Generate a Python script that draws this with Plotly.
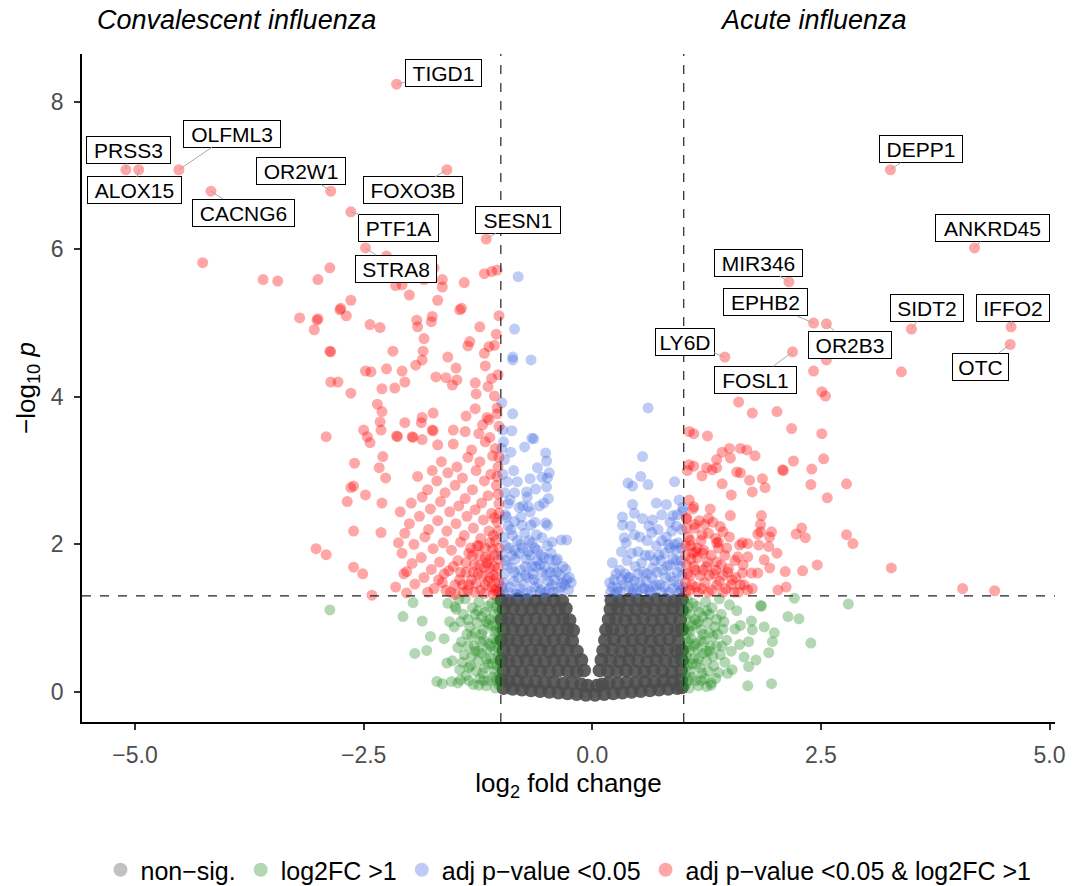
import plotly.graph_objects as go

FONT = "Liberation Sans, Arial, sans-serif"

# ---------------- data (log2FC, -log10 p) ----------------
grey_pts = [
    (-0.97,0.05),(-0.87,0.04),(-0.77,0.03),(-0.67,0.02),(-0.57,0.01),(-0.47,0.00),(-0.37,-0.01),(-0.27,-0.02),(-0.17,-0.03),(-0.07,-0.04),
    (0.03,-0.04),(0.13,-0.03),(0.23,-0.02),(0.33,-0.01),(0.43,0.00),(0.53,0.01),(0.63,0.02),(0.73,0.03),(0.83,0.04),(0.93,0.05),(0.98,0.06),
    (-0.99,0.16),(-0.92,0.14),(-0.82,0.15),(-0.72,0.13),(-0.62,0.14),(-0.52,0.12),(-0.42,0.13),(-0.32,0.11),(-0.22,0.12),(-0.12,0.10),(-0.05,0.08),
    (0.05,0.08),(0.11,0.10),(0.18,0.12),(0.28,0.11),(0.38,0.13),(0.48,0.12),(0.58,0.14),(0.68,0.13),(0.78,0.15),(0.88,0.14),(0.97,0.16),
    (-0.97,0.29),(-0.87,0.28),(-0.77,0.27),(-0.67,0.29),(-0.57,0.28),(-0.47,0.27),(-0.37,0.29),(-0.27,0.28),(-0.17,0.27),(-0.09,0.29),
    (0.08,0.29),(0.17,0.28),(0.27,0.27),(0.37,0.29),(0.47,0.28),(0.57,0.27),(0.67,0.29),(0.77,0.28),(0.87,0.27),(0.97,0.29),
    (-0.99,0.43),(-0.92,0.42),(-0.82,0.41),(-0.72,0.43),(-0.62,0.42),(-0.52,0.41),(-0.42,0.43),(-0.32,0.42),(-0.22,0.41),(-0.12,0.43),
    (0.10,0.43),(0.20,0.42),(0.30,0.41),(0.40,0.43),(0.50,0.42),(0.60,0.41),(0.70,0.43),(0.80,0.42),(0.90,0.41),(0.98,0.43),
    (-0.97,0.56),(-0.87,0.57),(-0.77,0.55),(-0.67,0.56),(-0.57,0.57),(-0.47,0.55),(-0.37,0.56),(-0.27,0.57),(-0.17,0.55),
    (0.12,0.56),(0.22,0.57),(0.32,0.55),(0.42,0.56),(0.52,0.57),(0.62,0.55),(0.72,0.56),(0.82,0.57),(0.92,0.55),(0.98,0.56),
    (-0.99,0.70),(-0.92,0.71),(-0.82,0.69),(-0.72,0.70),(-0.62,0.71),(-0.52,0.69),(-0.42,0.70),(-0.32,0.71),(-0.22,0.69),
    (0.14,0.70),(0.24,0.71),(0.34,0.69),(0.44,0.70),(0.54,0.71),(0.64,0.69),(0.74,0.70),(0.84,0.71),(0.94,0.69),
    (-0.97,0.84),(-0.87,0.85),(-0.77,0.83),(-0.67,0.84),(-0.57,0.85),(-0.47,0.83),(-0.37,0.84),(-0.27,0.85),(-0.21,0.83),
    (0.15,0.84),(0.22,0.85),(0.32,0.83),(0.42,0.84),(0.52,0.85),(0.62,0.83),(0.72,0.84),(0.82,0.85),(0.92,0.83),(0.98,0.84),
    (-0.99,0.98),(-0.92,0.99),(-0.82,0.97),(-0.72,0.98),(-0.62,0.99),(-0.52,0.97),(-0.42,0.98),(-0.32,0.99),(-0.25,0.97),
    (0.18,0.98),(0.26,0.99),(0.36,0.97),(0.46,0.98),(0.56,0.99),(0.66,0.97),(0.76,0.98),(0.86,0.99),(0.96,0.97),
    (-0.97,1.12),(-0.87,1.13),(-0.77,1.11),(-0.67,1.12),(-0.57,1.13),(-0.47,1.11),(-0.37,1.12),(-0.29,1.13),
    (0.20,1.12),(0.28,1.13),(0.38,1.11),(0.48,1.12),(0.58,1.13),(0.68,1.11),(0.78,1.12),(0.88,1.13),(0.98,1.11),
    (-0.99,1.24),(-0.92,1.23),(-0.82,1.25),(-0.72,1.24),(-0.62,1.23),(-0.52,1.25),(-0.42,1.24),(-0.33,1.23),
    (0.21,1.24),(0.30,1.23),(0.40,1.25),(0.50,1.24),(0.60,1.23),(0.70,1.25),(0.80,1.24),(0.90,1.23),(0.98,1.25),
]

green_pts = [
    (-1.02,0.10),(-1.04,0.35),(-1.03,0.60),(-1.05,0.85),(-1.02,1.10),(-1.04,1.25),
    (-1.09,0.20),(-1.11,0.45),(-1.08,0.72),(-1.12,0.98),(-1.10,1.20),
    (-1.16,0.08),(-1.18,0.32),(-1.15,0.58),(-1.19,0.84),(-1.17,1.08),
    (-1.23,0.18),(-1.25,0.42),(-1.22,0.68),(-1.26,0.94),(-1.24,1.22),
    (-1.30,0.10),(-1.33,0.35),(-1.29,0.62),(-1.34,0.88),(-1.31,1.14),
    (-1.38,0.22),(-1.40,0.50),(-1.37,0.78),(-1.41,1.05),(-1.39,1.26),
    (-1.45,0.30),(-1.47,0.60),(-1.44,0.95),(-1.50,1.15),
    (-1.02,0.22),(-1.03,0.48),(-1.02,0.72),(-1.03,0.98),(-1.06,0.05),(-1.07,0.28),(-1.06,0.55),(-1.07,0.82),
    (-1.07,1.05),(-1.13,0.15),(-1.14,0.38),(-1.13,0.65),(-1.14,0.92),(-1.14,1.16),(-1.20,0.25),(-1.21,0.52),
    (-1.21,0.78),(-1.21,1.02),(-1.27,0.28),(-1.28,0.55),(-1.28,0.80),(-1.28,1.05),(-1.35,0.15),(-1.36,0.62),
    (-1.36,0.98),(-1.42,0.40),(-1.43,0.68),(-1.46,1.25),(-1.56,0.95),(-1.58,1.20),
    (-1.01,0.40),(-1.01,0.85),(-1.05,0.15),(-1.05,0.68),(-1.05,1.15),(-1.09,0.38),(-1.09,0.90),(-1.11,0.62),
    (-1.16,0.45),(-1.16,0.95),(-1.19,0.15),(-1.19,0.70),(-1.25,0.55),(-1.25,1.10),(-1.32,0.48),(-1.32,0.75),
    (-1.96,1.21),(-2.87,1.11),(-2.07,1.02),(-1.86,0.96),(-1.77,0.75),(-1.62,0.72),(-1.94,0.52),(-1.81,0.56),
    (-1.59,0.39),(-1.53,0.42),(-1.70,0.14),(-1.64,0.11),(-1.54,0.14),(-1.47,0.12),(-1.44,0.16),(-1.51,0.88),
    (-1.49,1.12),(-1.35,0.33),(-1.24,0.09),
    (1.02,0.10),(1.04,0.35),(1.03,0.60),(1.05,0.85),(1.02,1.10),(1.04,1.25),
    (1.09,0.20),(1.11,0.45),(1.08,0.72),(1.12,0.98),(1.10,1.20),
    (1.16,0.08),(1.18,0.32),(1.15,0.58),(1.19,0.84),(1.17,1.08),
    (1.23,0.18),(1.25,0.42),(1.22,0.68),(1.26,0.94),(1.24,1.22),
    (1.30,0.12),(1.33,0.35),(1.29,0.62),(1.34,0.88),(1.31,1.14),
    (1.38,0.26),(1.40,0.50),(1.37,0.78),(1.41,1.05),(1.39,1.26),
    (1.45,0.40),(1.47,0.70),(1.44,0.95),(1.50,1.18),(1.52,0.55),(1.56,0.85),(1.58,1.10),
    (1.02,0.22),(1.03,0.48),(1.02,0.72),(1.03,0.98),(1.06,0.05),(1.07,0.28),(1.06,0.55),(1.07,0.82),
    (1.07,1.05),(1.13,0.15),(1.14,0.38),(1.13,0.65),(1.14,0.92),(1.14,1.16),(1.20,0.25),(1.21,0.52),
    (1.21,0.78),(1.21,1.02),(1.27,0.28),(1.28,0.55),(1.28,0.80),(1.28,1.05),(1.35,0.18),(1.36,0.62),
    (1.36,0.98),(1.42,0.62),(1.43,0.85),(1.48,0.25),(1.53,0.30),(1.62,0.90),
    (1.01,0.40),(1.01,0.85),(1.05,0.15),(1.05,0.68),(1.05,1.15),(1.09,0.38),(1.09,0.90),(1.11,0.62),
    (1.16,0.45),(1.16,0.95),(1.19,0.15),(1.19,0.70),(1.25,0.55),(1.25,1.10),(1.32,0.48),(1.32,0.75),
    (2.21,1.27),(2.80,1.19),(1.84,1.17),(2.14,1.02),(2.26,0.99),(1.88,0.88),(1.99,0.80),(1.97,0.68),
    (2.39,0.66),(1.93,0.53),(1.79,0.43),(1.71,0.34),(1.70,0.08),(1.96,0.11),(1.74,0.96),(1.75,0.84),
    (1.71,0.68),(1.61,0.64),(1.66,0.47),(1.30,0.09),(1.25,0.07),(1.85,1.16),
]

blue_pts = [
    (-0.81,5.63),(-0.85,4.92),(-0.87,4.54),(-0.87,4.50),(-0.67,4.50),(-0.99,3.92),(-0.87,3.77),(-0.88,3.54),
    (-0.97,3.39),(-0.89,3.25),(-0.74,3.32),(-0.66,3.44),(-0.64,3.43),(-0.51,3.24),(-0.50,3.13),(-0.60,3.04),
    (-0.68,2.89),(-0.55,2.91),(-0.49,2.90),(-0.47,2.97),(-0.50,2.78),(-0.48,2.62),(-0.53,2.56),(-0.96,2.70),
    (-0.85,2.70),(-0.72,2.71),(-0.71,2.64),(-0.70,2.51),(-0.68,2.44),(-0.51,2.29),(-0.49,2.26),(-0.94,2.37),
    (-0.85,2.31),(-0.78,2.37),(-0.77,2.26),(-0.67,2.26),(-0.61,2.13),(-0.55,2.09),(-0.44,2.03),(-0.34,2.06),
    (-0.28,2.06),(-0.23,1.48),(-0.98,3.55),(-0.99,3.30),
    (-0.98,1.35),(-0.96,1.60),(-0.99,1.85),(-0.97,2.10),(-0.95,2.40),(-0.98,2.95),(-0.96,3.15),
    (-0.90,1.42),(-0.88,1.68),(-0.91,1.95),(-0.89,2.20),(-0.92,2.55),
    (-0.83,1.33),(-0.81,1.55),(-0.84,1.80),(-0.82,2.05),(-0.80,2.50),(-0.86,3.00),
    (-0.75,1.45),(-0.73,1.70),(-0.76,1.95),(-0.74,2.15),
    (-0.67,1.36),(-0.65,1.60),(-0.68,1.85),(-0.66,2.02),
    (-0.59,1.48),(-0.57,1.72),(-0.60,1.92),
    (-0.52,1.35),(-0.50,1.58),(-0.53,1.82),(-0.49,1.98),
    (-0.44,1.45),(-0.42,1.68),(-0.45,1.88),
    (-0.37,1.36),(-0.35,1.58),(-0.38,1.80),
    (-0.30,1.45),(-0.29,1.66),(-0.26,1.38),
    (-0.97,1.48),(-0.93,1.72),(-0.95,1.98),(-0.92,2.25),(-0.86,1.50),(-0.85,1.92),(-0.87,2.12),(-0.79,1.40),
    (-0.78,1.65),(-0.80,1.88),(-0.71,1.33),(-0.70,1.55),(-0.72,1.80),(-0.69,2.05),(-0.63,1.42),(-0.62,1.70),
    (-0.63,1.95),(-0.56,1.38),(-0.55,1.62),(-0.56,1.85),(-0.47,1.40),(-0.46,1.62),(-0.41,1.52),(-0.40,1.78),
    (-0.33,1.48),(-0.32,1.70),(-0.25,1.55),(-0.93,2.85),(-0.90,2.60),(-0.82,2.85),(-0.76,2.52),(-0.63,2.30),
    (-0.58,2.52),(-0.62,2.75),
    (-0.99,1.42),(-0.95,1.78),(-0.91,1.35),(-0.88,1.85),(-0.85,1.62),(-0.80,1.32),(-0.78,2.00),(-0.73,1.58),
    (-0.70,1.90),(-0.64,1.52),(-0.60,1.78),(-0.57,1.35),(-0.52,1.70),(-0.48,1.50),(-0.43,1.35),(-0.39,1.62),
    (-0.34,1.42),(-0.28,1.52),(-0.47,1.80),(-0.66,1.70),
    (0.61,3.85),(0.55,3.19),(0.53,2.92),(0.61,2.81),(0.39,2.83),(0.44,2.79),(0.90,2.85),(0.70,2.56),
    (0.81,2.54),(0.88,2.39),(0.99,2.50),(0.44,2.54),(0.46,2.42),(0.33,2.37),(0.33,2.26),(0.55,2.35),
    (0.66,2.33),(0.65,2.16),(0.76,2.40),(0.35,2.09),(0.46,2.13),(0.32,1.90),(0.37,2.02),(0.22,1.75),(0.19,1.48),
    (0.20,1.35),(0.24,1.52),(0.28,1.40),(0.30,1.65),(0.34,1.45),(0.38,1.78),(0.41,1.55),(0.44,1.36),
    (0.47,1.70),(0.50,1.90),(0.52,1.48),(0.56,1.62),(0.58,1.85),(0.60,2.05),(0.62,1.38),(0.65,1.55),
    (0.68,1.78),(0.70,1.98),(0.72,2.20),(0.74,1.45),(0.77,1.65),(0.79,1.88),(0.81,2.10),(0.84,1.35),
    (0.86,1.56),(0.88,1.80),(0.90,2.00),(0.92,2.25),(0.94,1.45),(0.96,1.70),(0.97,1.95),(0.98,2.20),
    (0.99,2.45),(0.95,2.60),
    (0.22,1.42),(0.26,1.60),(0.31,1.36),(0.36,1.60),(0.40,1.42),(0.43,1.88),(0.46,1.50),(0.49,1.35),
    (0.54,1.75),(0.57,1.40),(0.60,1.60),(0.63,1.85),(0.67,1.42),(0.71,1.62),(0.73,1.85),(0.76,2.05),
    (0.79,1.42),(0.82,1.70),(0.85,1.95),(0.87,2.18),(0.89,1.50),(0.92,1.78),(0.94,2.02),(0.97,1.38),
    (0.98,1.58),(0.93,2.40),(0.85,2.30),(0.62,2.25),(0.52,2.10),(0.42,2.25),
    (0.99,1.42),(0.97,1.78),(0.95,1.35),(0.93,1.62),(0.91,1.92),(0.88,1.40),(0.85,1.72),(0.83,2.00),
    (0.80,1.55),(0.76,1.35),(0.75,1.78),(0.70,1.45),(0.66,1.68),(0.64,1.35),(0.59,1.50),(0.55,1.40),
    (0.50,1.60),(0.45,1.40),(0.39,1.55),(0.32,1.52),(0.26,1.35),
]

red_pts = [
    (-2.14,8.24),(-5.10,7.08),(-4.96,7.08),(-4.52,7.08),(-4.17,6.79),(-2.86,6.79),(-1.59,7.08),(-2.64,6.51),
    (-2.48,6.02),(-1.16,6.14),(3.26,7.08),(4.18,6.02),(2.15,5.56),(2.42,5.00),(2.56,4.99),(3.49,4.92),
    (4.58,4.95),(4.57,4.71),(1.45,4.54),(2.19,4.61),
    (-4.26,5.82),(-3.60,5.59),(-3.44,5.57),(-3.00,5.59),(-2.87,5.75),(-2.25,5.91),(-2.15,5.51),(-2.08,5.52),
    (-2.00,5.38),(-1.84,5.59),(-1.73,5.75),(-1.64,5.59),(-1.64,5.49),(-1.40,5.55),(-1.18,5.67),(-1.10,5.70),
    (-1.04,5.72),(-2.64,5.31),(-1.69,5.31),(-2.75,5.20),(-1.43,5.20),
    (-2.76,5.18),(-2.69,5.10),(-3.20,5.07),(-3.01,5.04),(-3.00,5.06),(-3.04,4.91),(-2.43,4.98),(-2.32,4.94),
    (-1.92,5.04),(-1.91,4.95),(-1.75,5.09),(-1.76,5.02),(-1.45,5.18),(-1.23,4.95),(-1.84,4.79),(-2.18,4.62),
    (-1.85,4.62),(-1.34,4.75),(-1.36,4.69),(-1.13,4.68),(-1.07,4.70),(-1.18,4.59),(-1.17,4.42),(-2.87,4.62),
    (-2.86,4.61),(-1.86,4.50),(-1.93,4.43),(-1.58,4.54),(-1.49,4.39),(-2.48,4.35),(-2.42,4.34),(-2.25,4.38),
    (-2.08,4.35),(-2.86,4.20),(-2.78,4.20),(-2.64,4.05),(-2.30,4.11),(-2.16,4.12),(-2.05,4.20),(-1.71,4.27),
    (-1.60,4.26),(-1.48,4.23),(-1.53,4.16),(-1.28,4.19),(-1.27,4.04),(-1.14,4.14),(-1.07,4.01),(-2.35,3.90),
    (-2.30,3.80),(-2.32,3.66),(-2.05,3.65),(-1.86,3.72),(-1.74,3.78),(-1.87,3.65),(-2.91,3.46),(-2.50,3.55),
    (-2.46,3.46),(-2.31,3.55),(-2.14,3.47),(-2.13,3.46),(-1.97,3.46),(-1.96,3.45),(-1.75,3.55),(-1.74,3.54),
    (-1.52,3.55),(-1.39,3.53),(-1.38,3.74),(-1.28,3.84),(-1.13,3.69),(-1.04,3.77),(-1.24,3.50),(-1.17,3.39),
    (-1.86,3.42),(-2.43,3.38),(-1.69,3.35),
    (-2.60,3.10),(-2.33,3.04),(-2.29,3.19),(-2.26,2.90),(-2.64,2.77),(-2.61,2.79),(-2.48,2.67),(-2.68,2.58),
    (-2.30,2.56),(-2.61,2.18),(-2.31,2.16),(-2.12,2.02),(-3.02,1.94),(-2.91,1.86),(-2.61,1.69),(-2.51,1.60),
    (-2.03,1.63),(-2.15,1.42),(-2.03,1.34),(-2.41,1.31),
    (-1.02,1.35),(-1.05,1.55),(-1.03,1.80),(-1.06,2.05),(-1.04,2.30),(-1.02,2.55),(-1.05,2.80),(-1.03,3.05),
    (-1.06,3.30),(-1.02,3.60),(-1.04,3.85),(-1.03,4.30),(-1.05,4.85),(-1.02,5.10),
    (-1.10,1.42),(-1.12,1.68),(-1.09,1.93),(-1.13,2.18),(-1.10,2.42),(-1.14,2.66),(-1.11,2.95),(-1.09,3.20),
    (-1.12,3.45),(-1.15,3.72),(-1.10,4.25),
    (-1.18,1.33),(-1.20,1.58),(-1.17,1.82),(-1.22,2.08),(-1.19,2.33),(-1.21,2.56),(-1.18,2.86),(-1.23,3.12),(-1.20,3.62),
    (-1.27,1.47),(-1.29,1.72),(-1.26,1.98),(-1.30,2.22),(-1.28,2.47),(-1.31,2.74),(-1.27,3.00),(-1.32,3.28),
    (-1.36,1.38),(-1.38,1.62),(-1.35,1.88),(-1.40,2.12),(-1.37,2.38),(-1.39,2.62),(-1.42,2.90),(-1.36,3.18),
    (-1.45,1.52),(-1.47,1.78),(-1.44,2.03),(-1.49,2.28),(-1.46,2.52),(-1.50,2.80),(-1.48,3.05),(-1.52,3.36),
    (-1.55,1.35),(-1.57,1.64),(-1.54,1.92),(-1.59,2.18),(-1.56,2.44),(-1.61,2.70),(-1.58,2.97),
    (-1.64,1.48),(-1.67,1.76),(-1.63,2.02),(-1.69,2.32),(-1.66,2.58),(-1.70,2.86),(-1.65,3.12),
    (-1.73,1.40),(-1.76,1.66),(-1.74,1.94),(-1.79,2.20),(-1.77,2.48),(-1.80,2.74),(-1.75,3.00),
    (-1.84,1.55),(-1.87,1.82),(-1.83,2.10),(-1.89,2.38),(-1.86,2.64),(-1.91,2.92),
    (-1.94,1.46),(-1.97,1.74),(-1.95,2.00),(-2.00,2.28),(-1.98,2.56),
    (-2.06,1.60),(-2.08,1.88),(-2.05,2.15),(-2.10,2.44),
    (-1.05,1.40),(-1.08,1.32),(-1.14,1.50),(-1.22,1.38),(-1.25,1.60),(-1.32,1.52),(-1.42,1.45),(-1.50,1.32),
    (-1.15,1.75),(-1.33,1.95),(-1.24,1.85),(-1.07,1.70),
    (-1.02,1.48),(-1.03,1.68),(-1.02,1.95),(-1.03,2.18),(-1.02,2.42),(-1.03,2.68),(-1.04,2.92),(-1.02,3.18),
    (-1.07,1.38),(-1.08,1.58),(-1.07,1.85),(-1.08,2.12),(-1.07,2.36),(-1.12,1.55),(-1.13,1.80),(-1.12,2.02),
    (-1.17,1.45),(-1.18,1.68),(-1.17,1.95),(-1.23,1.72),(-1.24,1.98),(-1.29,1.35),(-1.30,1.62),(-1.31,1.85),
    (-1.35,1.45),(-1.38,1.75),(-1.41,1.35),(-1.44,1.62),(-1.50,1.45),(-1.52,1.70),(-1.60,1.38),(-1.62,1.60),
    (-1.68,1.52),(-1.80,1.35),
    (2.42,4.35),(3.38,4.34),(2.56,4.50),(2.51,4.07),(2.55,4.01),(1.60,3.93),(1.75,3.78),(2.02,3.80),
    (2.18,3.57),(2.51,3.50),(1.11,3.50),(1.26,3.47),(1.11,3.06),(1.25,3.04),(1.31,3.01),(1.36,3.04),
    (1.20,2.93),(1.42,3.25),(1.50,3.30),(1.51,3.17),(1.36,3.15),(1.62,3.30),(1.69,3.28),(1.78,3.20),
    (1.58,2.98),(1.62,2.97),(1.72,2.87),(1.86,2.89),(1.42,2.82),(1.75,2.71),(1.89,2.77),(1.52,2.67),
    (2.08,3.01),(2.09,3.00),(2.20,3.13),(2.40,3.02),(2.53,3.16),(2.39,2.81),(2.78,2.82),(2.57,2.63),
    (1.11,2.51),(1.29,2.48),(1.51,2.39),(1.85,2.39),(1.03,2.36),(1.27,2.35),(1.12,2.27),(1.23,2.27),
    (1.40,2.24),(1.43,2.17),(1.20,2.13),(1.84,2.27),(1.81,2.14),(1.84,2.17),(1.96,2.17),(1.94,2.10),
    (2.29,2.22),(2.23,2.14),(2.33,2.09),(2.78,2.13),(2.85,2.01),(1.36,2.02),(1.38,2.03),(1.15,1.95),
    (1.10,1.88),(1.47,1.95),(1.61,1.99),(1.64,2.02),(1.70,2.01),(1.82,1.99),(1.93,1.97),(2.02,1.88),
    (1.59,1.83),(1.70,1.83),(1.88,1.79),(1.94,1.68),(2.46,1.72),(2.11,1.63),(2.30,1.64),(3.27,1.68),
    (1.26,1.76),(1.36,1.76),(1.49,1.67),(1.53,1.52),(1.64,1.61),(1.74,1.61),(1.81,1.61),(1.66,1.45),
    (1.75,1.40),(2.03,1.38),(2.12,1.42),(4.05,1.40),(4.40,1.37),(1.06,3.53),(1.06,3.08),
    (1.02,1.35),(1.04,1.60),(1.02,1.85),(1.05,2.10),(1.03,2.35),(1.06,2.60),(1.04,3.00),
    (1.09,1.45),(1.11,1.70),(1.08,1.98),(1.12,2.22),(1.10,2.48),
    (1.16,1.35),(1.18,1.58),(1.15,1.82),(1.19,2.05),(1.17,2.32),
    (1.23,1.48),(1.25,1.70),(1.22,1.92),(1.27,2.15),
    (1.31,1.38),(1.33,1.60),(1.30,1.85),(1.35,2.08),(1.32,2.30),
    (1.39,1.50),(1.41,1.72),(1.38,1.95),
    (1.46,1.40),(1.48,1.62),(1.45,1.85),(1.50,2.10),
    (1.55,1.35),(1.57,1.55),(1.56,1.78),
    (1.62,1.45),(1.65,1.72),(1.70,1.38),
    (1.02,1.48),(1.03,1.72),(1.02,1.98),(1.03,2.22),(1.07,1.38),(1.07,1.58),(1.08,1.80),(1.07,2.05),
    (1.13,1.42),(1.13,1.65),(1.13,1.90),(1.20,1.40),(1.21,1.65),(1.21,1.88),(1.27,1.35),(1.28,1.58),
    (1.36,1.45),(1.35,1.65),(1.43,1.35),(1.43,1.58),(1.52,1.45),(1.60,1.35),
]

# labelled genes and their (log2FC, -log10 p)
label_genes = ["TIGD1", "PRSS3", "ALOX15", "OLFML3", "CACNG6", "OR2W1", "FOXO3B", "PTF1A", "STRA8", "SESN1",
               "DEPP1", "ANKRD45", "MIR346", "EPHB2", "OR2B3", "SIDT2", "IFFO2", "OTC", "LY6D", "FOSL1"]
label_fc = [-2.14, -5.10, -4.96, -4.52, -4.17, -2.86, -1.59, -2.64, -2.48, -1.16,
            3.26, 4.18, 2.15, 2.42, 2.56, 3.49, 4.58, 4.57, 1.45, 2.19]
label_p = [8.24, 7.08, 7.08, 7.08, 6.79, 6.79, 7.08, 6.51, 6.02, 6.14,
           7.08, 6.02, 5.56, 5.00, 4.99, 4.92, 4.95, 4.71, 4.54, 4.61]

# label box placement (repelled positions, data coords) and box widths in px
box_x = [-1.63, -5.07, -5.01, -3.94, -3.81, -3.18, -1.96, -2.12, -2.15, -0.81,
         3.59, 4.38, 1.82, 1.89, 2.82, 3.66, 4.60, 4.24, 1.01, 1.78]
box_y = [8.39, 7.35, 6.80, 7.57, 6.50, 7.06, 6.80, 6.29, 5.74, 6.40,
         7.36, 6.29, 5.82, 5.28, 4.71, 5.21, 5.21, 4.41, 4.75, 4.23]
box_w = [77, 85, 95, 98, 103, 90, 100, 81, 82, 86, 84, 115, 89, 85, 84, 74, 74, 57, 60, 83]

groups = [
    ("non\u2212sig.", grey_pts, "#4D4D4D", 0.9, 14),
    ("log2FC &gt;1", green_pts, "#228B22", 0.35, 11),
    ("adj p\u2212value &lt;0.05", blue_pts, "#4169E1", 0.35, 11),
    ("adj p\u2212value &lt;0.05 &amp; log2FC &gt;1", red_pts, "#FF0000", 0.35, 11),
]

fig = go.Figure()
for name, pts, col, op, sz in groups:
    fig.add_trace(go.Scatter(
        x=[p[0] for p in pts], y=[p[1] for p in pts], mode="markers",
        marker=dict(size=sz, color=col, opacity=op, line=dict(width=0)),
        showlegend=False, hoverinfo="skip"))
for name, pts, col, op, sz in groups:
    fig.add_trace(go.Scatter(
        x=[None], y=[None], mode="markers", name=name,
        marker=dict(size=14, color=col, opacity=0.35, line=dict(width=0))))

# threshold lines
line_style = dict(color="#222222", width=1.2, dash="dash")
for xv in (-1, 1):
    fig.add_shape(type="line", xref="x", yref="paper", x0=xv, x1=xv, y0=0, y1=1, line=line_style)
fig.add_shape(type="line", xref="paper", yref="y", x0=0, x1=1, y0=1.30, y1=1.30, line=line_style)

annotations = []
for g, lx, ly, bx, by, w in zip(label_genes, label_fc, label_p, box_x, box_y, box_w):
    annotations.append(dict(
        x=lx, y=ly, xref="x", yref="y", ax=bx, ay=by, axref="x", ayref="y",
        text=g, showarrow=True, arrowhead=0, arrowwidth=1, arrowcolor="#AAAAAA",
        standoff=0, bgcolor="white", bordercolor="black", borderwidth=1, borderpad=2,
        width=w - 6, height=22, align="center",
        font=dict(family=FONT, size=21, color="black")))
annotations.append(dict(x=0.159, y=1.051, xref="paper", yref="paper", showarrow=False,
                        text="<i>Convalescent influenza</i>", xanchor="center", yanchor="middle",
                        font=dict(family=FONT, size=27, color="black")))
annotations.append(dict(x=0.752, y=1.051, xref="paper", yref="paper", showarrow=False,
                        text="<i>Acute influenza</i>", xanchor="center", yanchor="middle",
                        font=dict(family=FONT, size=27, color="black")))

axis_common = dict(showline=True, linecolor="black", linewidth=1.5, ticks="outside", ticklen=6,
                   tickwidth=1.5, tickcolor="#333333", showgrid=False, zeroline=False,
                   tickfont=dict(family=FONT, size=23, color="#4D4D4D"))

fig.update_layout(
    width=1073, height=886,
    margin=dict(l=82, r=18, t=54, b=164, autoexpand=False),
    plot_bgcolor="white", paper_bgcolor="white",
    font=dict(family=FONT, color="black"),
    xaxis=dict(range=[-5.58, 5.06], tickvals=[-5, -2.5, 0, 2.5, 5], tickformat=".1f",
               title=dict(text="log<sub>2</sub> fold change", font=dict(family=FONT, size=26, color="black"),
                          standoff=6),
               ticklabelstandoff=6, **axis_common),
    yaxis=dict(range=[-0.41, 8.65], tickvals=[0, 2, 4, 6, 8],
               title=dict(text="\u2212log<sub>10</sub> <i>p</i>", font=dict(family=FONT, size=26, color="black"),
                          standoff=8),
               ticklabelstandoff=6, **axis_common),
    legend=dict(orientation="h", x=0.5, xanchor="center", y=-0.2216, yanchor="middle",
                font=dict(family=FONT, size=25, color="black"), itemsizing="trace"),
    annotations=annotations,
)

fig.write_html("out.html")
